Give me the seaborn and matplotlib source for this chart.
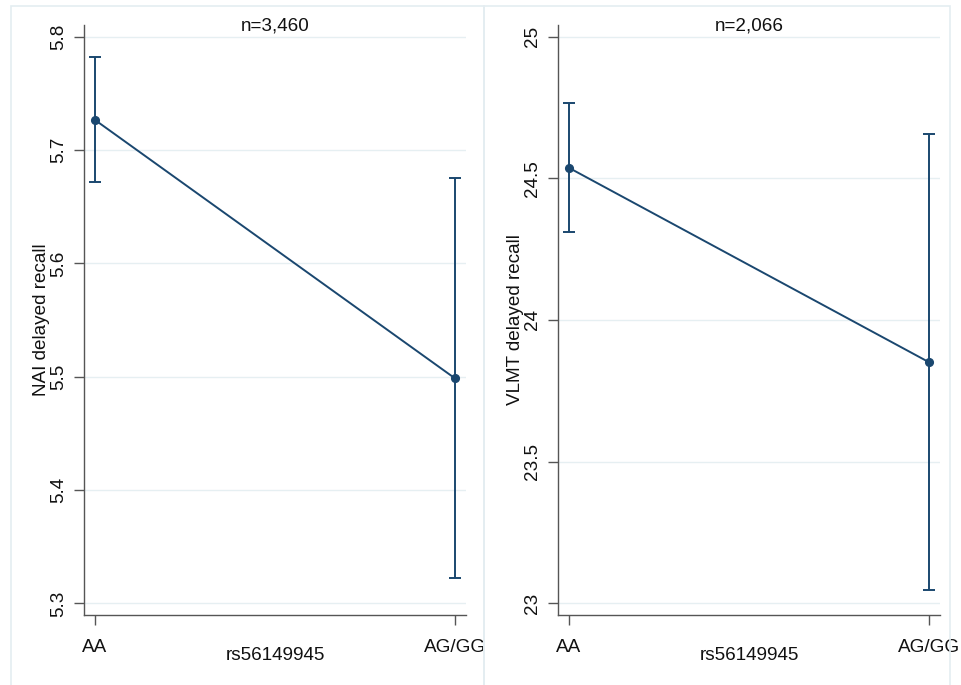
import matplotlib
matplotlib.use("Agg")
import matplotlib.pyplot as plt
from matplotlib.patches import Rectangle
import seaborn as sns
import pandas as pd

# ---- data ----
genotypes = ["AA", "AG/GG"]
nai_mean = [5.7265, 5.4985]
nai_lo = [5.6715, 5.3225]
nai_hi = [5.7818, 5.6750]
vlmt_mean = [24.537, 23.851]
vlmt_lo = [24.311, 23.047]
vlmt_hi = [24.766, 24.655]
titles = ["n=3,460", "n=2,066"]
ylabels = ["NAI delayed recall", "VLMT delayed recall"]
xlabel = "rs56149945"
nai_ticks = [5.3, 5.4, 5.5, 5.6, 5.7, 5.8]
nai_ticklabels = ["5.3", "5.4", "5.5", "5.6", "5.7", "5.8"]
vlmt_ticks = [23, 23.5, 24, 24.5, 25]
vlmt_ticklabels = ["23", "23.5", "24", "24.5", "25"]

sns.set_theme(style="white")
plt.rcParams["font.family"] = ["Liberation Sans", "DejaVu Sans"]

W, H = 962, 685
fs = 13.6
fig = plt.figure(figsize=(W / 100, H / 100), dpi=100)
fig.patch.set_facecolor("white")

navy = "#1a476f"
grid_c = "#e6eff2"
axis_c = "#555555"
box_c = "#e4edf1"
txt_c = "#111111"

# panel frames
for x0, x1 in [(11, 484.5), (484.5, 950)]:
    fig.add_artist(Rectangle((x0 / W, -0.05), (x1 - x0) / W, 1.05 - 6 / H,
                             transform=fig.transFigure, fill=False,
                             edgecolor=box_c, linewidth=1.2))

panels = [
    (84, nai_mean, nai_lo, nai_hi, nai_ticks, nai_ticklabels, 5.3, 5.8),
    (558, vlmt_mean, vlmt_lo, vlmt_hi, vlmt_ticks, vlmt_ticklabels, 23, 25),
]

for i, (left, mean, lo, hi, ticks, tlabels, ymin, ymax) in enumerate(panels):
    ax = fig.add_axes([left / W, (H - 615) / H, 382 / W, 590 / H])
    df = pd.DataFrame({"genotype": genotypes, "mean": mean})
    sns.pointplot(data=df, x="genotype", y="mean", ax=ax, color=navy,
                  errorbar=None, markers="o", markersize=5.5, linewidth=1.4)
    yerr = [[m - l for m, l in zip(mean, lo)], [h - m for m, h in zip(mean, hi)]]
    ax.errorbar(range(len(genotypes)), mean, yerr=yerr, fmt="none",
                ecolor=navy, elinewidth=1.4, capsize=4.5, capthick=1.4)
    pad = (ymax - ymin) * 0.0206
    ax.set_ylim(ymin - pad, ymax + pad)
    ax.set_xlim(-0.0306, 1.0306)
    ax.set_yticks(ticks)
    ax.set_yticklabels(tlabels, rotation=90, va="center", fontsize=fs)
    ax.set_xticks(range(len(genotypes)))
    ax.set_xticklabels(genotypes, fontsize=fs)
    for t in ticks:
        ax.axhline(t, color=grid_c, linewidth=1.0, zorder=0)
    ax.grid(False)
    sns.despine(ax=ax)
    for s in ["left", "bottom"]:
        ax.spines[s].set_color(axis_c)
        ax.spines[s].set_linewidth(1.0)
    ax.tick_params(axis="both", direction="out", length=7, width=1.0,
                   color=axis_c, labelcolor=txt_c, left=True, bottom=True)
    ax.tick_params(axis="x", pad=10)
    ax.tick_params(axis="y", pad=5)
    ax.set_xlabel(xlabel, fontsize=fs, color=txt_c)
    ax.xaxis.set_label_coords(0.5, -0.055)
    ax.set_ylabel(ylabels[i], fontsize=fs, color=txt_c)
    ax.yaxis.set_label_coords(-0.090, 0.5)
    ax.text(0.5, 0.9915, titles[i], transform=ax.transAxes, ha="center",
            va="baseline", fontsize=fs, color=txt_c)

fig.savefig("out.png", dpi=100)
